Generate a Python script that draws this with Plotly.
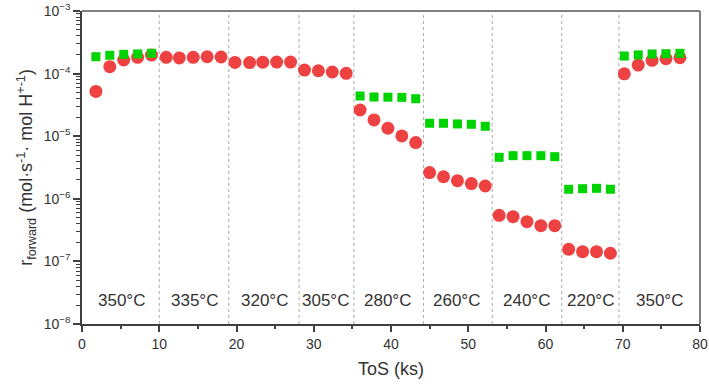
import plotly.graph_objects as go

# ---- data ----
red_x = [1.8, 3.6, 5.4, 7.2, 9.0,
         10.9, 12.6, 14.4, 16.2, 18.0,
         19.8, 21.7, 23.4, 25.2, 27.0,
         28.8, 30.6, 32.4, 34.2,
         36.0, 37.8, 39.6, 41.4, 43.2,
         45.0, 46.8, 48.6, 50.4, 52.2,
         54.0, 55.8, 57.6, 59.4, 61.2,
         63.0, 64.8, 66.6, 68.4,
         70.2, 72.0, 73.8, 75.6, 77.4]
red_y = [5.2e-5, 1.29e-4, 1.65e-4, 1.82e-4, 1.98e-4,
         1.82e-4, 1.78e-4, 1.82e-4, 1.86e-4, 1.84e-4,
         1.51e-4, 1.50e-4, 1.52e-4, 1.53e-4, 1.53e-4,
         1.14e-4, 1.11e-4, 1.06e-4, 1.01e-4,
         2.62e-5, 1.82e-5, 1.34e-5, 1.01e-5, 7.9e-6,
         2.62e-6, 2.25e-6, 1.95e-6, 1.75e-6, 1.6e-6,
         5.44e-7, 5.18e-7, 4.31e-7, 3.72e-7, 3.72e-7,
         1.56e-7, 1.43e-7, 1.43e-7, 1.35e-7,
         9.9e-5, 1.37e-4, 1.63e-4, 1.73e-4, 1.79e-4]

green_x = [1.8, 3.6, 5.4, 7.2, 9.0,
           36.0, 37.8, 39.6, 41.4, 43.2,
           45.0, 46.8, 48.6, 50.4, 52.2,
           54.0, 55.8, 57.6, 59.4, 61.2,
           63.0, 64.8, 66.6, 68.4,
           70.2, 72.0, 73.8, 75.6, 77.4]
green_y = [1.86e-4, 1.96e-4, 2.03e-4, 2.06e-4, 2.11e-4,
           4.39e-5, 4.23e-5, 4.2e-5, 4.17e-5, 3.97e-5,
           1.61e-5, 1.61e-5, 1.57e-5, 1.55e-5, 1.44e-5,
           4.6e-6, 4.89e-6, 4.89e-6, 4.89e-6, 4.71e-6,
           1.42e-6, 1.45e-6, 1.47e-6, 1.42e-6,
           1.91e-4, 1.99e-4, 2.06e-4, 2.08e-4, 2.11e-4]

boundaries = [10.0, 19.0, 28.1, 35.2, 44.2, 53.1, 62.1, 69.5]
temp_labels = ["350°C", "335°C", "320°C", "305°C", "280°C", "260°C", "240°C", "220°C", "350°C"]
temp_label_x = [5.1, 14.5, 23.6, 31.5, 39.6, 48.5, 57.5, 65.8, 74.8]
temp_label_logy = -7.63

y_tickvals = [1e-8, 1e-7, 1e-6, 1e-5, 1e-4, 1e-3]
y_ticktext = ["10<sup>−8</sup>", "10<sup>−7</sup>", "10<sup>−6</sup>",
              "10<sup>−5</sup>", "10<sup>−4</sup>", "10<sup>−3</sup>"]
y_minor = [m * 10 ** e for e in range(-8, -3) for m in range(2, 10)]
x_tickvals = [0, 10, 20, 30, 40, 50, 60, 70, 80]
x_minor = [5, 15, 25, 35, 45, 55, 65, 75]

FONT = "Liberation Sans, Arial, sans-serif"
TXT = "#333333"
AX = "#404040"

fig = go.Figure()
fig.add_trace(go.Scatter(x=red_x, y=red_y, mode="markers",
                         marker=dict(symbol="circle", size=13, color="#EE4242",
                                     line=dict(width=0)),
                         showlegend=False))
fig.add_trace(go.Scatter(x=green_x, y=green_y, mode="markers",
                         marker=dict(symbol="square", size=9, color="#00D400",
                                     line=dict(width=0)),
                         showlegend=False))

for b in boundaries:
    fig.add_shape(type="line", x0=b, x1=b, y0=0, y1=1, xref="x", yref="paper",
                  line=dict(color="#AAAAAA", width=1, dash="dot"), layer="below")

for t, xv in zip(temp_labels, temp_label_x):
    fig.add_annotation(x=xv, y=temp_label_logy, xref="x", yref="y", text=t,
                       showarrow=False, font=dict(family=FONT, size=17, color=TXT))

# top and right frame lines
fig.add_shape(type="line", x0=0, x1=1, y0=1, y1=1, xref="paper", yref="paper",
              line=dict(color="#808080", width=2))
fig.add_shape(type="line", x0=1, x1=1, y0=0, y1=1, xref="paper", yref="paper",
              line=dict(color="#808080", width=2))

fig.update_layout(
    width=709, height=387,
    margin=dict(l=82, r=9, t=11, b=63, autoexpand=False),
    paper_bgcolor="white", plot_bgcolor="white",
    font=dict(family=FONT, color=TXT, size=14),
    xaxis=dict(range=[0, 80], tickmode="array", tickvals=x_tickvals,
               automargin=False,
               ticks="outside", ticklen=6, tickwidth=1.5, tickcolor=AX,
               showline=True, linecolor=AX, linewidth=1.5,
               showgrid=False, zeroline=False,
               tickfont=dict(size=14, color=TXT),
               title=dict(text="ToS (ks)", font=dict(size=18, color=TXT), standoff=12),
               minor=dict(tickmode="array", tickvals=x_minor, ticks="outside",
                          ticklen=3, tickwidth=1.5, tickcolor=AX)),
    yaxis=dict(type="log", range=[-8, -3], tickmode="array", tickvals=y_tickvals,
               ticktext=y_ticktext, automargin=False,
               ticks="outside", ticklen=7, tickwidth=1.5, tickcolor=AX,
               showline=True, linecolor=AX, linewidth=1.5,
               showgrid=False, zeroline=False,
               tickfont=dict(size=14, color=TXT),
               title=dict(text="r<sub>forward</sub> (mol·s<sup>-1</sup>· mol H<sup>+-1</sup>)",
                          font=dict(size=18, color=TXT), standoff=6),
               minor=dict(tickmode="array", tickvals=y_minor, ticks="outside",
                          ticklen=4, tickwidth=1, tickcolor=AX)),
)

fig.write_html("out.html")
